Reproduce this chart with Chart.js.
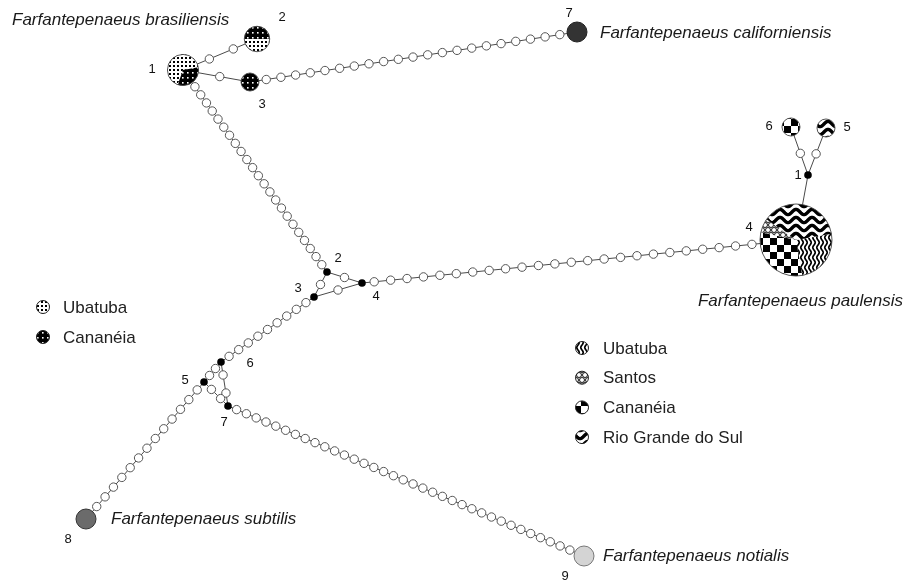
<!DOCTYPE html>
<html>
<head>
<meta charset="utf-8">
<script src="https://cdn.jsdelivr.net/npm/chart.js@4.4.1/dist/chart.umd.min.js"></script>
<style>
  html, body { margin: 0; padding: 0; background: #fff; }
  #wrap { width: 908px; height: 583px; position: relative; }
</style>
</head>
<body>
<div id="wrap"><canvas id="net"></canvas></div>
<script>
// ---- haplotype network data ----
// nodes: sampled haplotypes (B = brasiliensis, P = paulensis, outgroups C7/S8/N9) and median vectors (J*, P1)
const nodeIds     = ['B1', 'B2', 'B3', 'C7', 'P4', 'P1', 'P6', 'P5', 'J2', 'J3', 'J4', 'J5', 'J6', 'J7', 'S8', 'N9'];
const nodeX       = [183, 257, 250, 577, 796, 808, 791, 826, 327, 314, 362, 204, 221, 228, 86, 584];
const nodeY       = [70, 39, 82, 32, 240, 175, 127, 128, 272, 297, 283, 382, 362, 406, 519, 556];
const nodeLabels  = ['1', '2', '3', '7', '4', '1', '6', '5', '2', '3', '4', '5', '6', '7', '8', '9'];

// links and number of mutational steps on each
const edgeFrom  = ['B1', 'B1', 'B3', 'B1', 'J2', 'J2', 'J3', 'J4', 'P4', 'P1', 'P1', 'J3', 'J6', 'J6', 'J5', 'J5', 'J7'];
const edgeTo    = ['B2', 'B3', 'C7', 'J2', 'J3', 'J4', 'J4', 'P4', 'P1', 'P6', 'P5', 'J6', 'J5', 'J7', 'J7', 'S8', 'N9'];
const edgeSteps = [2, 1, 21, 23, 1, 1, 1, 24, 0, 1, 1, 9, 2, 2, 2, 13, 35];

// sampling localities
const brasiliensisPops = ['Ubatuba', 'Cananéia'];
const paulensisPops    = ['Ubatuba', 'Santos', 'Cananéia', 'Rio Grande do Sul'];

// individuals per locality in each haplotype
const freqB1 = [2, 1];
const freqB2 = [1, 1];
const freqB3 = [0, 1];
const freqP4 = [4, 1, 5, 6];
const freqP5 = [0, 0, 0, 1];
const freqP6 = [0, 0, 1, 0];

const speciesNames = [
  'Farfantepenaeus brasiliensis',
  'Farfantepenaeus californiensis',
  'Farfantepenaeus paulensis',
  'Farfantepenaeus subtilis',
  'Farfantepenaeus notialis'
];

// ---- drawing layout ----
const idx = id => nodeIds.indexOf(id);
const medianIds = ['P1', 'J2', 'J3', 'J4', 'J5', 'J6', 'J7'];
const outgroupIds = ['C7', 'S8', 'N9'];
const outgroupFill = ['#333333', '#6b6b6b', '#d4d4d4'];
const outgroupEdge = ['#222222', '#333333', '#777777'];

const pies = [
  { id: 'B1', freq: freqB1, kind: 'bras', start: 110, order: [0, 1] },
  { id: 'B2', freq: freqB2, kind: 'bras', start: 0,   order: [0, 1] },
  { id: 'B3', freq: freqB3, kind: 'bras', start: 0,   order: [0, 1] },
  { id: 'P4', freq: freqP4, kind: 'paul', start: -10, order: [0, 2, 1, 3] },
  { id: 'P5', freq: freqP5, kind: 'paul', start: 0,   order: [0, 2, 1, 3] },
  { id: 'P6', freq: freqP6, kind: 'paul', start: 0,   order: [0, 2, 1, 3] }
];

const labelOffset = {
  B1: [-31, -1], B2: [25, -22], B3: [12, 22], C7: [-8, -19], P4: [-47, -13],
  P1: [-10, 0], P6: [-22, -1], P5: [21, -1], J2: [11, -14], J3: [-16, -9],
  J4: [14, 13], J5: [-19, -2], J6: [29, 1], J7: [-4, 16], S8: [-18, 20], N9: [-19, 20]
};

const speciesPlace = [
  { x: 12,  y: 20,  align: 'left' },
  { x: 600, y: 33,  align: 'left' },
  { x: 903, y: 301, align: 'right' },
  { x: 111, y: 519, align: 'left' },
  { x: 603, y: 556, align: 'left' }
];

const legendBras = { x: 43, y: 307, dy: 30, tx: 63 };
const legendPaul = { x: 582, y: 348, dy: 29.7, tx: 603 };

const hapRadius = n => 9 * Math.sqrt(n);
const sum = a => a.reduce((s, v) => s + v, 0);
function nodeRadius(id) {
  const p = pies.find(q => q.id === id);
  if (p) return hapRadius(sum(p.freq));
  if (outgroupIds.includes(id)) return 10;
  return 4;
}

// ---- fill patterns for localities ----
function tile(w, h, paint) {
  const c = document.createElement('canvas');
  c.width = w; c.height = h;
  const g = c.getContext('2d');
  g.fillStyle = '#fff'; g.fillRect(0, 0, w, h);
  paint(g, w, h);
  return c;
}
let fills = null;
function buildFills(ctx) {
  const dotsWhite = tile(4, 4, g => { g.fillStyle = '#000'; g.fillRect(1, 1, 2, 2); });
  const dotsBlack = tile(5, 5, g => { g.fillStyle = '#000'; g.fillRect(0, 0, 5, 5); g.fillStyle = '#fff'; g.fillRect(2, 2, 1.6, 1.6); });
  const fineWaves = tile(4, 10, g => {
    g.strokeStyle = '#000'; g.lineWidth = 1.7;
    for (const dx of [-4, 0, 4]) {
      g.beginPath();
      for (let y = -1; y <= 11; y += 0.5) {
        const x = 2 + dx + 1.2 * Math.sin(2 * Math.PI * y / 10);
        y === -1 ? g.moveTo(x, y) : g.lineTo(x, y);
      }
      g.stroke();
    }
  });
  const thickWaves = tile(16, 8, g => {
    g.strokeStyle = '#000'; g.lineWidth = 3.4;
    for (const dy of [-8, 0, 8]) {
      g.beginPath();
      for (let x = -1; x <= 17; x += 0.5) {
        const y = 4 + dy + 2.6 * Math.sin(2 * Math.PI * x / 16);
        x === -1 ? g.moveTo(x, y) : g.lineTo(x, y);
      }
      g.stroke();
    }
  });
  const checker = tile(14, 14, g => { g.fillStyle = '#000'; g.fillRect(0, 0, 7, 7); g.fillRect(7, 7, 7, 7); });
  const honey = tile(6, 10, g => {
    g.strokeStyle = '#000'; g.lineWidth = 0.9;
    for (const [cx, cy] of [[0, 0], [6, 0], [3, 5], [0, 10], [6, 10]]) {
      g.beginPath(); g.arc(cx, cy, 2.5, 0, Math.PI * 2); g.stroke();
    }
  });
  const pat = c => ctx.createPattern(c, 'repeat');
  fills = {
    bras: [pat(dotsWhite), pat(dotsBlack)],
    paul: [pat(fineWaves), pat(honey), pat(checker), pat(thickWaves)]
  };
}

function drawPie(g, cx, cy, r, freq, kind, startDeg, order) {
  const total = sum(freq);
  let a = startDeg * Math.PI / 180;
  for (const k of order) {
    if (!freq[k]) continue;
    const da = freq[k] / total * Math.PI * 2;
    g.beginPath();
    g.moveTo(cx, cy);
    g.arc(cx, cy, r, a, a + da);
    g.closePath();
    g.fillStyle = fills[kind][k];
    g.fill();
    a += da;
  }
  g.beginPath();
  g.arc(cx, cy, r, 0, Math.PI * 2);
  g.strokeStyle = '#444';
  g.lineWidth = 0.9;
  g.stroke();
}

const networkPlugin = {
  id: 'haplotypeNetwork',
  afterDatasetsDraw(chart) {
    const g = chart.ctx;
    if (!fills) buildFills(g);
    const sx = chart.scales.x, sy = chart.scales.y;
    const P = id => [sx.getPixelForValue(nodeX[idx(id)]), sy.getPixelForValue(nodeY[idx(id)])];

    // mutational steps along each link
    g.save();
    edgeFrom.forEach((a, e) => {
      const b = edgeTo[e], n = edgeSteps[e];
      if (!n) return;
      const [x1, y1] = P(a), [x2, y2] = P(b);
      const L = Math.hypot(x2 - x1, y2 - y1);
      const r1 = nodeRadius(a), r2 = nodeRadius(b);
      const avail = L - r1 - r2;
      for (let k = 1; k <= n; k++) {
        const t = (r1 + avail * (k - 0.5) / n) / L;
        g.beginPath();
        g.arc(x1 + (x2 - x1) * t, y1 + (y2 - y1) * t, 4.2, 0, Math.PI * 2);
        g.fillStyle = '#fff';
        g.fill();
        g.strokeStyle = '#555';
        g.lineWidth = 1;
        g.stroke();
      }
    });

    // haplotype pies
    for (const p of pies) {
      const [cx, cy] = P(p.id);
      drawPie(g, cx, cy, nodeRadius(p.id), p.freq, p.kind, p.start, p.order);
    }

    // haplotype numbers
    g.fillStyle = '#111';
    g.font = '13px "Liberation Sans", Arial, sans-serif';
    g.textAlign = 'center';
    g.textBaseline = 'middle';
    nodeIds.forEach((id, i) => {
      const [cx, cy] = P(id);
      const o = labelOffset[id];
      g.fillText(nodeLabels[i], cx + o[0], cy + o[1]);
    });

    // species names
    g.font = 'italic 17px "Liberation Sans", Arial, sans-serif';
    g.fillStyle = '#1a1a1a';
    speciesNames.forEach((s, i) => {
      const pl = speciesPlace[i];
      g.textAlign = pl.align;
      g.fillText(s, sx.getPixelForValue(pl.x), sy.getPixelForValue(pl.y));
    });

    // locality keys
    const key = (lg, names, kind) => {
      names.forEach((nm, i) => {
        const cx = sx.getPixelForValue(lg.x), cy = sy.getPixelForValue(lg.y + i * lg.dy);
        g.beginPath();
        g.arc(cx, cy, 6.5, 0, Math.PI * 2);
        g.fillStyle = fills[kind][i];
        g.fill();
        g.strokeStyle = '#222';
        g.lineWidth = 1;
        g.stroke();
        g.fillStyle = '#222';
        g.font = '17px "Liberation Sans", Arial, sans-serif';
        g.textAlign = 'left';
        g.fillText(nm, sx.getPixelForValue(lg.tx), cy + 1);
      });
    };
    key(legendBras, brasiliensisPops, 'bras');
    key(legendPaul, paulensisPops, 'paul');
    g.restore();
  }
};

// ---- datasets ----
const pt = id => ({ x: nodeX[idx(id)], y: nodeY[idx(id)] });
const datasets = [
  {
    label: 'outgroups',
    data: outgroupIds.map(pt),
    pointRadius: 10,
    pointBackgroundColor: outgroupFill,
    pointBorderColor: outgroupEdge,
    pointBorderWidth: 1,
    showLine: false,
    order: 0
  },
  {
    label: 'median vectors',
    data: medianIds.map(pt),
    pointRadius: 3.8,
    pointBackgroundColor: '#000',
    pointBorderColor: '#000',
    pointBorderWidth: 0,
    showLine: false,
    order: 0
  }
];
edgeFrom.forEach((a, e) => {
  datasets.push({
    label: a + '-' + edgeTo[e],
    data: [pt(a), pt(edgeTo[e])],
    showLine: true,
    borderColor: '#4a4a4a',
    borderWidth: 1,
    pointRadius: 0,
    order: 1
  });
});

new Chart(document.getElementById('net'), {
  type: 'scatter',
  data: { datasets },
  options: {
    responsive: true,
    maintainAspectRatio: false,
    animation: false,
    events: [],
    layout: { padding: 0, autoPadding: false },
    clip: false,
    plugins: { legend: { display: false }, tooltip: { enabled: false } },
    scales: {
      x: { type: 'linear', min: 0, max: 908, display: false },
      y: { type: 'linear', min: 0, max: 583, reverse: true, display: false }
    }
  },
  plugins: [networkPlugin]
});
</script>
</body>
</html>
